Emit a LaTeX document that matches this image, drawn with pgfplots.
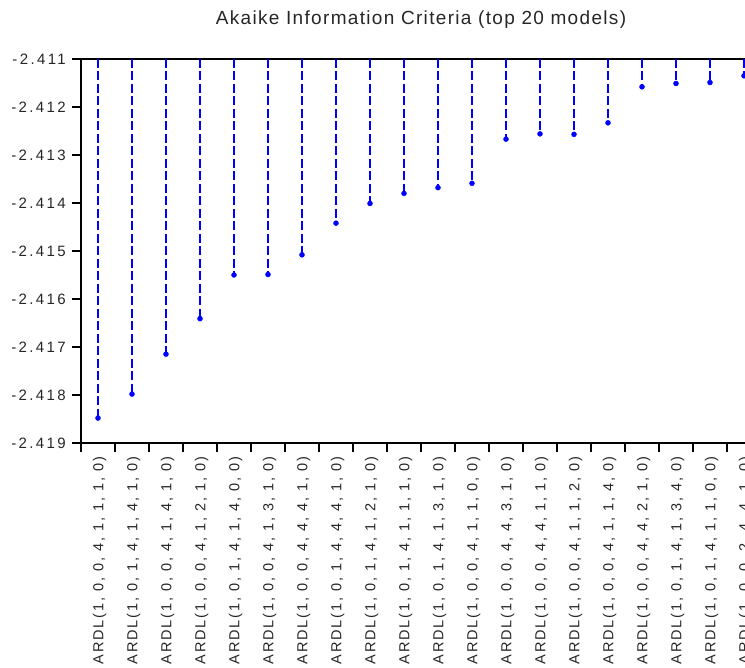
\documentclass[border=0pt]{standalone}
\usepackage{pgfplots}
\pgfplotsset{compat=1.18}
\usepackage{pgfplotstable}
\usepackage{fontspec}
\setmainfont{Liberation Sans}
\newfontfamily\titlefont[LetterSpace=7]{Liberation Sans}
\newfontfamily\tickfont[LetterSpace=16]{Liberation Sans}
\newfontfamily\labfont[LetterSpace=13.5]{Liberation Sans}

\pgfplotstableread{
x y
1 -2.41848
2 -2.41798
3 -2.41715
4 -2.41641
5 -2.41550
6 -2.41549
7 -2.41508
8 -2.41442
9 -2.41401
10 -2.41380
11 -2.41368
12 -2.41359
13 -2.41267
14 -2.41256
15 -2.41257
16 -2.41233
17 -2.41158
18 -2.41151
19 -2.41149
20 -2.41135
}\aic

\begin{document}
\begin{tikzpicture}
\useasboundingbox (0,0) rectangle (745pt,668pt);
\clip (0,0) rectangle (745pt,668pt);
\begin{axis}[
  at={(81pt,225pt)}, anchor=south west,
  scale only axis, width=680pt, height=384pt,
  xmin=0.5, xmax=20.5, ymin=-0.008, ymax=0,
  axis line style={line width=1.2pt, black},
  tick align=outside,
  major tick length=9pt, minor tick length=9pt,
  every tick/.style={black, line width=1.2pt},
  xtick={1,...,20},
  major x tick style={draw=none},
  minor xtick={0.5,1.5,...,20.5},
  xtick pos=bottom, ytick pos=left,
  ytick={-0.008,-0.007,-0.006,-0.005,-0.004,-0.003,-0.002,-0.001,0},
  yticklabels={-2.419,-2.418,-2.417,-2.416,-2.415,-2.414,-2.413,-2.412,-2.411},
  yticklabel style={font=\tickfont\fontsize{15}{17}\selectfont, text=black!85, inner sep=0pt, xshift=-6pt},
  xticklabels={
    {ARDL(1, 0, 0, 4, 1, 1, 1, 0)},
    {ARDL(1, 0, 1, 4, 1, 4, 1, 0)},
    {ARDL(1, 0, 0, 4, 1, 4, 1, 0)},
    {ARDL(1, 0, 0, 4, 1, 2, 1, 0)},
    {ARDL(1, 0, 1, 4, 1, 4, 0, 0)},
    {ARDL(1, 0, 0, 4, 1, 3, 1, 0)},
    {ARDL(1, 0, 0, 4, 4, 4, 1, 0)},
    {ARDL(1, 0, 1, 4, 4, 4, 1, 0)},
    {ARDL(1, 0, 1, 4, 1, 2, 1, 0)},
    {ARDL(1, 0, 1, 4, 1, 1, 1, 0)},
    {ARDL(1, 0, 1, 4, 1, 3, 1, 0)},
    {ARDL(1, 0, 0, 4, 1, 1, 0, 0)},
    {ARDL(1, 0, 0, 4, 4, 3, 1, 0)},
    {ARDL(1, 0, 0, 4, 4, 1, 1, 0)},
    {ARDL(1, 0, 0, 4, 1, 1, 2, 0)},
    {ARDL(1, 0, 0, 4, 1, 1, 4, 0)},
    {ARDL(1, 0, 0, 4, 4, 2, 1, 0)},
    {ARDL(1, 0, 1, 4, 1, 3, 4, 0)},
    {ARDL(1, 0, 1, 4, 1, 1, 0, 0)},
    {ARDL(1, 0, 0, 2, 4, 4, 1, 0)}},
  xticklabel style={font=\labfont\fontsize{14.5}{16}\selectfont, text=black!85, yshift=-4pt, xshift=1.5pt, rotate=90, anchor=east, inner sep=0pt},
  scaled y ticks=false,
  clip=false,
]
\addplot[ycomb, blue, line width=1.8pt, dash pattern=on 9pt off 3.5pt]
  table[x=x, y expr={\thisrow{y}+2.411}] {\aic};
\addplot[only marks, mark=*, mark size=2.5pt, blue]
  table[x=x, y expr={\thisrow{y}+2.411}] {\aic};
\node[font=\titlefont\fontsize{19}{21}\selectfont, text=black!85] at (rel axis cs:0.5,1) [yshift=39pt] {Akaike Information Criteria (top 20 models)};
\end{axis}
\end{tikzpicture}
\end{document}
